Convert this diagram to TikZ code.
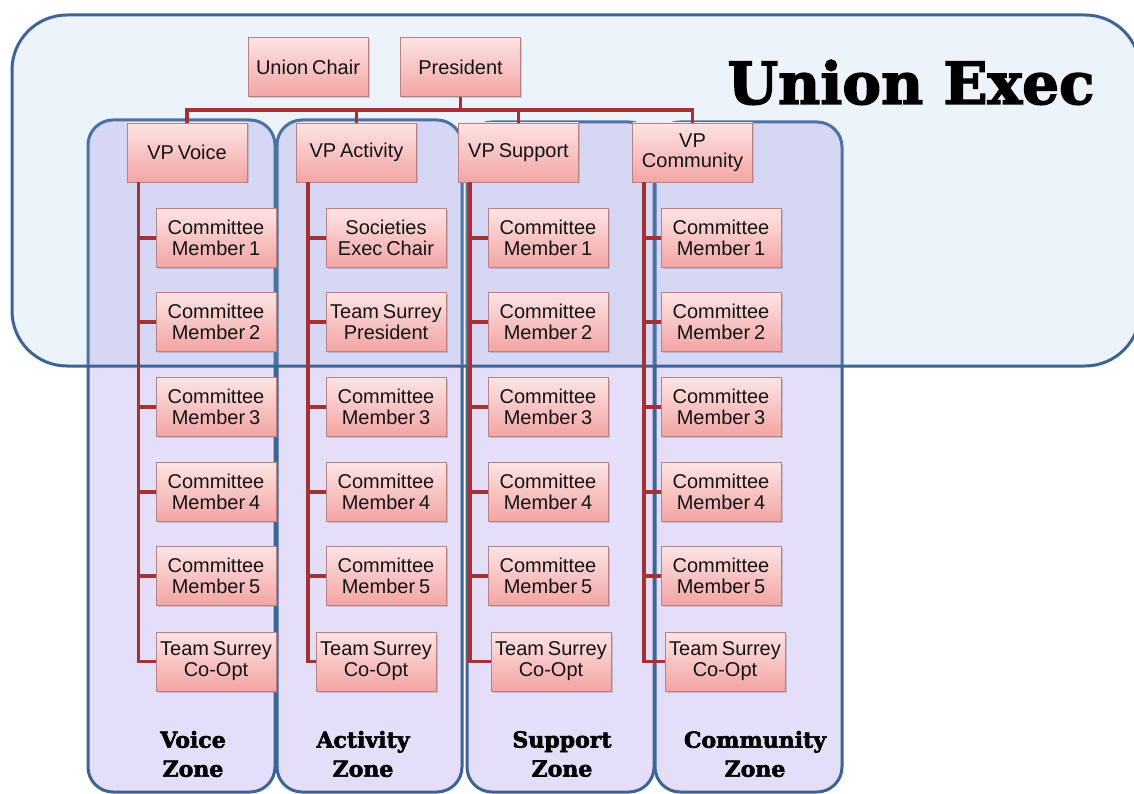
\documentclass[tikz,border=0pt]{standalone}
\usepackage{fontspec}
\setmainfont{Liberation Sans}[WordSpace=0.7]
\newfontfamily\slab{DejaVu Serif}[BoldFeatures={FakeBold=2.5}]
\usetikzlibrary{shadows,calc}
\definecolor{zoneblue}{RGB}{62,100,150}
\definecolor{lav}{RGB}{228,222,248}
\definecolor{execfill}{RGB}{150,185,235}
\definecolor{pinktop}{RGB}{253,228,228}
\definecolor{pinkbot}{RGB}{243,164,164}
\definecolor{boxline}{RGB}{185,130,130}
\definecolor{connred}{RGB}{165,50,50}
\definecolor{txt}{RGB}{20,20,20}
\tikzset{
  orgbox/.style={draw=boxline, line width=0.7pt, top color=pinktop, bottom color=pinkbot,
    minimum width=120pt, minimum height=59pt, inner sep=0pt, align=center,
    font=\fontsize{20}{21}\selectfont, text=txt,
    drop shadow={opacity=0.35, shadow xshift=1.5pt, shadow yshift=-1.5pt}},
  conn/.style={draw=connred, line width=3.5pt},
  zonebox/.style={draw=zoneblue, line width=3pt, fill=lav, rounded corners=25pt},
  zonelabel/.style={align=center, font=\slab\bfseries\fontsize{22}{29}\selectfont, text=black},
}
\begin{document}
\begin{tikzpicture}[x=1pt,y=-1pt]
\useasboundingbox (0,0) rectangle (1134,794);
\clip (0,0) rectangle (1134,794);
\fill[white] (0,0) rectangle (1134,794);
% zones
\draw[zonebox] (88,120) rectangle (275,792);
\draw[zonebox] (277,120) rectangle (462,792);
\draw[zonebox] (467,122) rectangle (654,792);
\draw[zonebox] (655,122) rectangle (842,792);
% exec box
\draw[draw=zoneblue, line width=3pt, fill=execfill, fill opacity=0.17, rounded corners=55pt] (12,15) rectangle (1140,366);
\node[anchor=base, font=\slab\bfseries\fontsize{58}{60}\selectfont, text=black] (title) at (911,104) {Union Exec};
% top nodes
\node[orgbox] (uc) at (308,67) {Union Chair};
\node[orgbox] (pres) at (460.5,67) {President};
\node[orgbox] (vpv) at (187,152.5) {VP Voice};
\node[orgbox] (vpa) at (356.5,152.5) {VP Activity};
\node[orgbox] (vps) at (518.5,152.5) {VP Support};
\node[orgbox, font=\fontsize{20}{20}\selectfont] (vpc) at (692.5,152.5) {VP\\Community};
% columns
\foreach \c/\x/\xo in {v/216/216, a/386/376, s/548/551, c/721/725}{
  \foreach \i/\y in {1/238, 2/322, 3/407, 4/492, 5/576}{
    \coordinate (\c pos\i) at (\x,\y);
  }
  \coordinate (\c pos6) at (\xo,661.5);
}
\node[orgbox] (v1) at (vpos1) {Committee\\Member 1};
\node[orgbox] (v2) at (vpos2) {Committee\\Member 2};
\node[orgbox] (v3) at (vpos3) {Committee\\Member 3};
\node[orgbox] (v4) at (vpos4) {Committee\\Member 4};
\node[orgbox] (v5) at (vpos5) {Committee\\Member 5};
\node[orgbox] (v6) at (vpos6) {Team Surrey\\Co-Opt};
\node[orgbox] (a1) at (apos1) {Societies\\Exec Chair};
\node[orgbox] (a2) at (apos2) {Team Surrey\\President};
\node[orgbox] (a3) at (apos3) {Committee\\Member 3};
\node[orgbox] (a4) at (apos4) {Committee\\Member 4};
\node[orgbox] (a5) at (apos5) {Committee\\Member 5};
\node[orgbox] (a6) at (apos6) {Team Surrey\\Co-Opt};
\node[orgbox] (s1) at (spos1) {Committee\\Member 1};
\node[orgbox] (s2) at (spos2) {Committee\\Member 2};
\node[orgbox] (s3) at (spos3) {Committee\\Member 3};
\node[orgbox] (s4) at (spos4) {Committee\\Member 4};
\node[orgbox] (s5) at (spos5) {Committee\\Member 5};
\node[orgbox] (s6) at (spos6) {Team Surrey\\Co-Opt};
\node[orgbox] (c1) at (cpos1) {Committee\\Member 1};
\node[orgbox] (c2) at (cpos2) {Committee\\Member 2};
\node[orgbox] (c3) at (cpos3) {Committee\\Member 3};
\node[orgbox] (c4) at (cpos4) {Committee\\Member 4};
\node[orgbox] (c5) at (cpos5) {Committee\\Member 5};
\node[orgbox] (c6) at (cpos6) {Team Surrey\\Co-Opt};
% connectors
\coordinate (bus) at (460,110);
\foreach \c/\vp in {v/vpv, a/vpa, s/vps, c/vpc}{
  \coordinate (\c stem) at ([xshift=12pt]\vp.south west);
}
\draw[conn] (pres.south) -- (pres.south |- bus);
\draw[conn] (vpv.north) |- (bus) -| (vpc.north);
\draw[conn] (vpa.north) -- (vpa.north |- bus);
\draw[conn] (vps.north) -- (vps.north |- bus);
\foreach \c in {v,a,s,c}{
  \draw[conn] (\c stem) |- (\c6.west);
  \foreach \i in {1,...,5}{
    \draw[conn] (\c stem |- \c\i.west) -- (\c\i.west);
  }
}
% zone labels
\node[zonelabel] (lv) at (193,754) {Voice\\Zone};
\node[zonelabel] (la) at (363,754) {Activity\\Zone};
\node[zonelabel] (ls) at (562,754) {Support\\Zone};
\node[zonelabel] (lc) at (755,754) {Community\\Zone};
\end{tikzpicture}
\end{document}
